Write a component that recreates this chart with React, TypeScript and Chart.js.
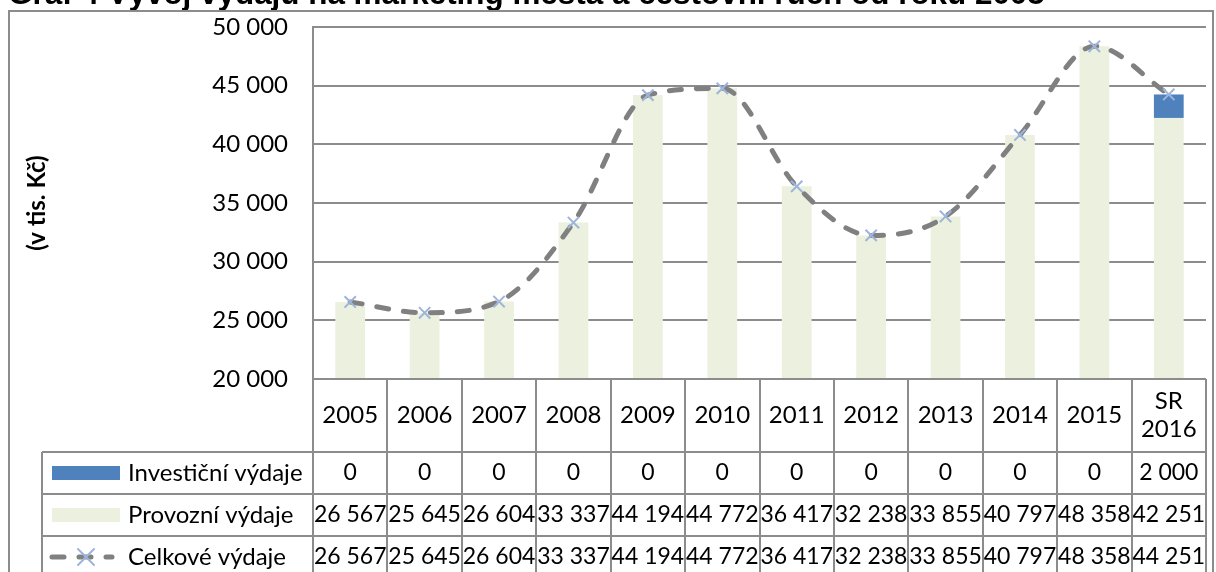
import React, { useEffect, useRef } from 'react';
import { Chart, registerables } from 'chart.js';

Chart.register(...registerables);

// ---------- data ----------
const categories: (string | string[])[] = [
  '2005', '2006', '2007', '2008', '2009', '2010', '2011', '2012', '2013', '2014', '2015', ['SR', '2016'],
];
const investicni = [0, 0, 0, 0, 0, 0, 0, 0, 0, 0, 0, 2000];
const provozni = [26567, 25645, 26604, 33337, 44194, 44772, 36417, 32238, 33855, 40797, 48358, 42251];
const celkove = [26567, 25645, 26604, 33337, 44194, 44772, 36417, 32238, 33855, 40797, 48358, 44251];
const seriesNames = ['Investiční výdaje', 'Provozní výdaje', 'Celkové výdaje'];
const yMin = 20000;
const yMax = 50000;
const yStep = 5000;
const chartTitle = 'Graf 4 Vývoj výdajů na marketing města a cestovní ruch od roku 2005';
const yTitle = '(v tis. Kč)';

// ---------- styles ----------
const FONT_FAMILY = 'Lato, "Open Sans", sans-serif';
const FONT_SIZE = 24;
const VALUE_FONT_SIZE = 23;
const LINE_GRAY = '#8c8c8c';
const BLUE = '#4F81BD';
const PALE = '#EBF1DE';
const DASH_GRAY = '#808080';
const MARKER = '#9DB4DB';

const fmt = (v: number) => String(v).replace(/\B(?=(\d{3})+(?!\d))/g, '\u00a0');

const drawCross = (ctx: CanvasRenderingContext2D, x: number, y: number, r: number) => {
  ctx.save();
  ctx.strokeStyle = MARKER;
  ctx.lineWidth = 2;
  ctx.beginPath();
  ctx.moveTo(x - r, y - r);
  ctx.lineTo(x + r, y + r);
  ctx.moveTo(x + r, y - r);
  ctx.lineTo(x - r, y + r);
  ctx.stroke();
  ctx.restore();
};

const tablePlugin = {
  id: 'dataTable',
  afterDraw(chart: any) {
    const ctx: CanvasRenderingContext2D = chart.ctx;
    const area = chart.chartArea;
    const n = categories.length;
    const colW = (area.right - area.left) / n;
    const top = area.bottom;
    const hdrBottom = top + 73;
    const rowH = 42;
    const rows = [hdrBottom, hdrBottom + rowH, hdrBottom + 2 * rowH];
    const legendLeft = 42;
    const bottom = chart.height + 10;

    ctx.save();
    // lines
    ctx.strokeStyle = LINE_GRAY;
    ctx.lineWidth = 2;
    ctx.beginPath();
    ctx.moveTo(area.left, top);
    ctx.lineTo(area.right, top);
    rows.forEach((y) => {
      ctx.moveTo(legendLeft, y);
      ctx.lineTo(area.right, y);
    });
    for (let i = 0; i <= n; i++) {
      const x = Math.round(area.left + i * colW);
      ctx.moveTo(x, top);
      ctx.lineTo(x, bottom);
    }
    ctx.moveTo(legendLeft, hdrBottom);
    ctx.lineTo(legendLeft, bottom);
    ctx.stroke();

    // header labels
    ctx.fillStyle = '#000';
    ctx.font = `${FONT_SIZE}px ${FONT_FAMILY}`;
    ctx.textAlign = 'center';
    ctx.textBaseline = 'middle';
    const xs = categories.map((_, i) => chart.scales.x.getPixelForValue(i));
    categories.forEach((c, i) => {
      const cy = (top + hdrBottom) / 2;
      if (Array.isArray(c)) {
        const lh = 28;
        c.forEach((t, k) => ctx.fillText(t, xs[i], cy + (k - (c.length - 1) / 2) * lh));
      } else {
        ctx.fillText(c, xs[i], cy);
      }
    });

    // values
    ctx.font = `${VALUE_FONT_SIZE}px ${FONT_FAMILY}`;
    const series = [investicni, provozni, celkove];
    series.forEach((arr, r) => {
      const cy = rows[r] + rowH / 2;
      arr.forEach((v, i) => ctx.fillText(fmt(v), xs[i], cy));
    });

    // legend keys
    ctx.font = `${FONT_SIZE}px ${FONT_FAMILY}`;
    ctx.textAlign = 'left';
    seriesNames.forEach((name, r) => {
      const cy = rows[r] + rowH / 2;
      ctx.fillText(name, 128, cy);
    });
    ctx.fillStyle = BLUE;
    ctx.fillRect(52, rows[0] + rowH / 2 - 7, 68, 14);
    ctx.fillStyle = PALE;
    ctx.fillRect(52, rows[1] + rowH / 2 - 7, 68, 14);
    const ly = rows[2] + rowH / 2;
    ctx.strokeStyle = DASH_GRAY;
    ctx.lineWidth = 5;
    ctx.lineCap = 'round';
    ctx.setLineDash([12, 15]);
    ctx.beginPath();
    ctx.moveTo(52, ly);
    ctx.lineTo(112, ly);
    ctx.stroke();
    ctx.setLineDash([]);
    drawCross(ctx, 86, ly, 8);

    // y-axis title
    ctx.save();
    ctx.translate(37, 203);
    ctx.rotate(-Math.PI / 2);
    ctx.font = `bold 24px ${FONT_FAMILY}`;
    ctx.fillStyle = '#000';
    ctx.textAlign = 'center';
    ctx.textBaseline = 'middle';
    ctx.fillText(yTitle, 0, 0);
    ctx.restore();

    // chart title (partly cut off at top)
    ctx.font = 'bold 100px "Liberation Sans", Arial, sans-serif';
    const w = ctx.measureText(chartTitle).width;
    const size = (100 * 1037) / w;
    ctx.font = `bold ${size}px "Liberation Sans", Arial, sans-serif`;
    ctx.fillStyle = '#000';
    ctx.textAlign = 'left';
    ctx.textBaseline = 'alphabetic';
    ctx.fillText(chartTitle, 8, 4);

    // outer frame
    ctx.strokeStyle = LINE_GRAY;
    ctx.lineWidth = 2;
    ctx.strokeRect(9, 11, chart.width - 12, chart.height + 20);
    ctx.restore();
  },
};

export default function App() {
  const ref = useRef<HTMLCanvasElement | null>(null);

  useEffect(() => {
    if (!ref.current) return;
    const chart = new Chart(ref.current, {
      type: 'bar',
      data: {
        labels: categories as any,
        datasets: [
          {
            type: 'line',
            label: seriesNames[2],
            data: celkove,
            borderColor: DASH_GRAY,
            borderWidth: 5,
            borderDash: [12, 15],
            borderCapStyle: 'round',
            cubicInterpolationMode: 'monotone',
            pointStyle: 'crossRot',
            pointRadius: 8,
            pointBorderColor: MARKER,
            pointBorderWidth: 2,
            pointBackgroundColor: 'rgba(0,0,0,0)',
            stack: 'line',
            order: 0,
          } as any,
          {
            type: 'bar',
            label: seriesNames[1],
            data: provozni,
            backgroundColor: PALE,
            barPercentage: 0.4,
            categoryPercentage: 1,
            stack: 'bars',
            order: 1,
          },
          {
            type: 'bar',
            label: seriesNames[0],
            data: investicni,
            backgroundColor: BLUE,
            barPercentage: 0.4,
            categoryPercentage: 1,
            stack: 'bars',
            order: 2,
          },
        ],
      },
      options: {
        responsive: false,
        animation: false,
        devicePixelRatio: 1,
        layout: { padding: { left: 0, top: 27, right: 3, bottom: 572 - 379 } },
        plugins: {
          legend: { display: false },
          tooltip: { enabled: false },
          title: { display: false },
        },
        scales: {
          x: {
            display: false,
            stacked: true,
            offset: true,
          },
          y: {
            stacked: true,
            min: yMin,
            max: yMax,
            afterFit: (scale: any) => {
              scale.width = 313;
              scale.paddingTop = 0;
              scale.paddingBottom = 0;
            },
            ticks: {
              stepSize: yStep,
              padding: 25,
              color: '#000',
              font: { family: FONT_FAMILY, size: FONT_SIZE },
              callback: (v: any) => fmt(Number(v)),
            },
            grid: { color: LINE_GRAY, lineWidth: 2, drawTicks: false },
            border: { display: true, color: LINE_GRAY, width: 2 },
          },
        },
      },
      plugins: [tablePlugin],
    });
    return () => chart.destroy();
  }, []);

  return (
    <div style={{ position: 'absolute', left: 0, top: 0, width: 1216, height: 572, background: '#fff' }}>
      <canvas ref={ref} width={1216} height={572} style={{ display: 'block' }} />
    </div>
  );
}
